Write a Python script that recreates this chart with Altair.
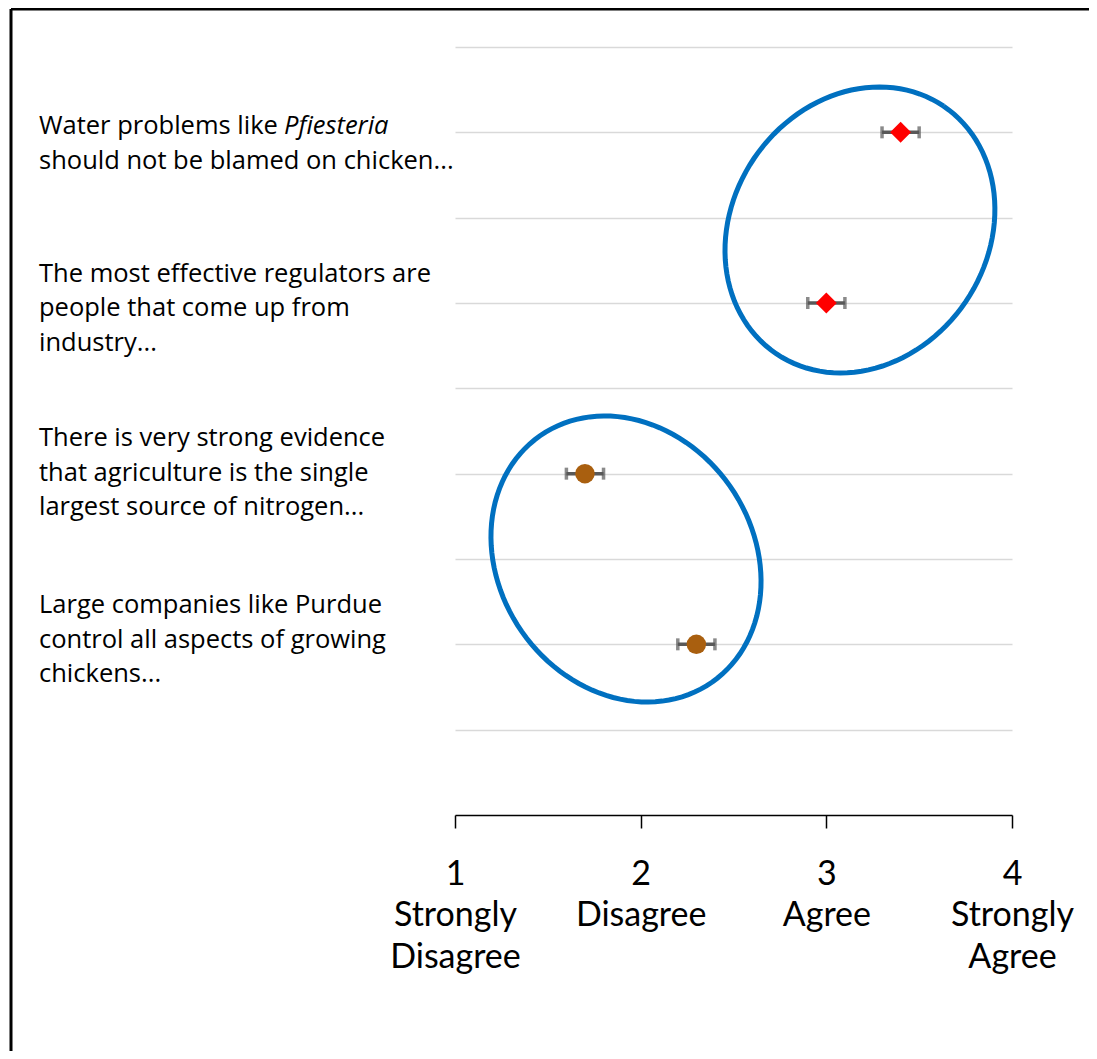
import json
import altair as alt
import numpy as np
import pandas as pd

# ---------------- data ----------------
label_lines = [
    ["Water problems like", "should not be blamed on chicken..."],
    ["The most effective regulators are", "people that come up from", "industry..."],
    ["There is very strong evidence", "that agriculture is the single", "largest source of nitrogen..."],
    ["Large companies like Purdue", "control all aspects of growing", "chickens..."],
]
italic_terms = ["Pfiesteria", "", "", ""]
rows = [8, 6, 4, 2]
means = [3.4, 3.0, 1.7, 2.3]
errors = [0.1, 0.1, 0.1, 0.1]
groups = ["industry view", "industry view", "environment view", "environment view"]

x_ticks = [1, 2, 3, 4]
x_tick_labels = [["1", "Strongly", "Disagree"], ["2", "Disagree"], ["3", "Agree"], ["4", "Strongly", "Agree"]]
grid_rows = [1, 2, 3, 4, 5, 6, 7, 8, 9]

# ellipse annotations: centre and two conjugate semi-axis vectors (data units)
ellipse_ids = ["top", "bottom"]
ellipse_cx = [3.181, 1.921]
ellipse_cy = [6.856, 3.0]
ellipse_u = [(0.451, 1.450), (0.463, -1.444)]
ellipse_v = [(0.570, -0.840), (-0.561, -0.851)]

AXIS_FONT = "Lato"
LABEL_FONT = "Open Sans"
LABEL_SIZE = 25.5

pts = pd.DataFrame({
    "row": rows, "mean": means, "lo": [m - e for m, e in zip(means, errors)],
    "hi": [m + e for m, e in zip(means, errors)], "group": groups,
})

ell_recs = []
t = np.linspace(0, 2 * np.pi, 121)
for k, eid in enumerate(ellipse_ids):
    for i, tt in enumerate(t):
        ell_recs.append({
            "id": eid, "i": i,
            "x": ellipse_cx[k] + ellipse_u[k][0] * np.cos(tt) + ellipse_v[k][0] * np.sin(tt),
            "y": ellipse_cy[k] + ellipse_u[k][1] * np.cos(tt) + ellipse_v[k][1] * np.sin(tt),
        })
ell = pd.DataFrame(ell_recs)

xscale = alt.Scale(domain=[1, 4], nice=False, zero=False)
yscale = alt.Scale(domain=[0, 9], nice=False, zero=True)

label_expr = " : ".join(
    f"datum.value == {v} ? {json.dumps(lbl)}" for v, lbl in zip(x_ticks[:-1], x_tick_labels[:-1])
) + f" : {json.dumps(x_tick_labels[-1])}"

base_x = alt.X("mean:Q", scale=xscale, title=None,
               axis=alt.Axis(values=x_ticks, grid=False, domainColor="#000000", domainWidth=1.5,
                             tickColor="#000000", tickWidth=1.5, tickSize=13,
                             labelFont=AXIS_FONT, labelFontSize=34, labelColor="#000000",
                             labelLineHeight=41.5, labelPadding=29, labelExpr=label_expr,
                             labelFlush=False, labelOverlap=False))
base_y = alt.Y("row:Q", scale=yscale, title=None,
               axis=alt.Axis(values=grid_rows, grid=True, gridColor="#D9D9D9", gridWidth=1.5,
                             labels=False, ticks=False, domain=False))

grid_layer = alt.Chart(pts).mark_point(opacity=0).encode(x=base_x, y=base_y)

ellipses = alt.Chart(ell).mark_line(color="#0070C0", strokeWidth=5).encode(
    x=alt.X("x:Q", scale=xscale), y=alt.Y("y:Q", scale=yscale),
    detail="id:N", order="i:Q")

err_rule = alt.Chart(pts).mark_rule(color="#595959", strokeWidth=3.5).encode(
    x=alt.X("lo:Q", scale=xscale), x2="hi:Q", y=alt.Y("row:Q", scale=yscale))
cap_lo = alt.Chart(pts).mark_tick(color="#595959", thickness=3.5, size=12, orient="vertical").encode(
    x=alt.X("lo:Q", scale=xscale), y=alt.Y("row:Q", scale=yscale))
cap_hi = alt.Chart(pts).mark_tick(color="#595959", thickness=3.5, size=12, orient="vertical").encode(
    x=alt.X("hi:Q", scale=xscale), y=alt.Y("row:Q", scale=yscale))

points = alt.Chart(pts).mark_point(filled=True, opacity=1, strokeWidth=0).encode(
    x=alt.X("mean:Q", scale=xscale), y=alt.Y("row:Q", scale=yscale),
    shape=alt.Shape("group:N", scale=alt.Scale(domain=["industry view", "environment view"],
                                               range=["diamond", "circle"]), legend=None),
    color=alt.Color("group:N", scale=alt.Scale(domain=["industry view", "environment view"],
                                               range=["#FF0000", "#A95F0F"]), legend=None),
    size=alt.Size("group:N", scale=alt.Scale(domain=["industry view", "environment view"],
                                             range=[440, 380]), legend=None),
)

# statement labels (left of the plot); dy places first-line baseline
label_dy = [2, -21.5, -27.5, -31]
label_layers = []
for k in range(len(rows)):
    df = pd.DataFrame({"row": [rows[k]], "text": [label_lines[k]]})
    label_layers.append(alt.Chart(df).mark_text(
        align="left", baseline="alphabetic", font=LABEL_FONT, fontSize=LABEL_SIZE, lineHeight=34.5,
        color="#000000", dy=label_dy[k]).encode(
        x=alt.value(-416), y=alt.Y("row:Q", scale=yscale), text="text"))
    if italic_terms[k]:
        dfi = pd.DataFrame({"row": [rows[k]], "text": [italic_terms[k]]})
        label_layers.append(alt.Chart(dfi).mark_text(
            align="left", baseline="alphabetic", font=LABEL_FONT, fontSize=LABEL_SIZE,
            fontStyle="italic", color="#000000", dy=label_dy[k]).encode(
            x=alt.value(-171), y=alt.Y("row:Q", scale=yscale), text="text:N"))

# outer frame (top and left edges)
frame_src = pd.DataFrame({"k": [0]})
frame_top = alt.Chart(frame_src).mark_rule(color="#000000", strokeWidth=3).encode(
    x=alt.value(-444), x2=alt.value(700), y=alt.value(-38))
frame_left = alt.Chart(frame_src).mark_rule(color="#000000", strokeWidth=3).encode(
    x=alt.value(-444), y=alt.value(-38), y2=alt.value(1100))

chart = alt.layer(grid_layer, ellipses, err_rule, cap_lo, cap_hi, points, *label_layers,
                  frame_top, frame_left).properties(
    width=557, height=768,
    padding={"left": 447, "top": 39, "right": 77, "bottom": 236},
    autosize=alt.AutoSizeParams(type="none"),
).configure_view(stroke=None)

chart.save("out.html", embed_options={"renderer": "svg", "actions": False})
